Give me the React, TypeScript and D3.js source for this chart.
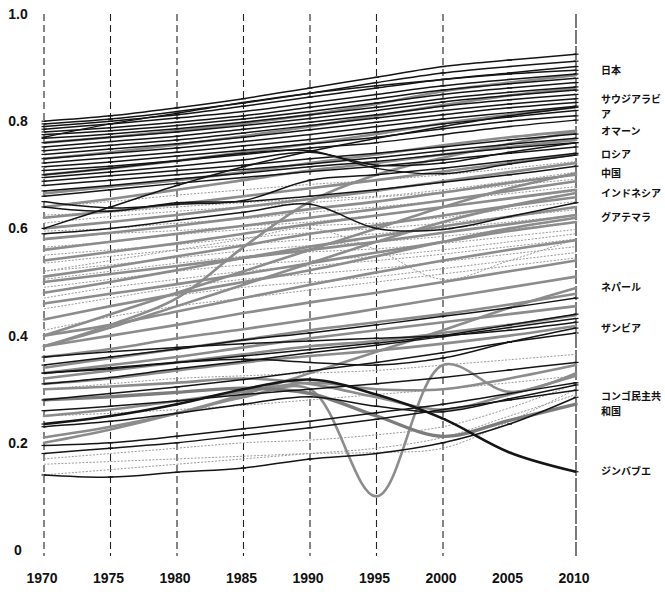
import React from 'react';
import * as d3 from 'd3';

// Survey years on the horizontal axis
const years = [1970, 1975, 1980, 1985, 1990, 1995, 2000, 2005, 2010];
const gridYears = [1970, 1975, 1980, 1985, 1990, 1995, 2000, 2010];
const yTicks = [0, 0.2, 0.4, 0.6, 0.8, 1.0];
const yTickLabels = ['0', '0.2', '0.4', '0.6', '0.8', '1.0'];

// Highlighted countries (index values 1970 → 2010)
const japan = [0.770, 0.795, 0.815, 0.835, 0.852, 0.866, 0.878, 0.888, 0.895];
const saudiArabia = [0.600, 0.640, 0.680, 0.715, 0.744, 0.768, 0.790, 0.810, 0.826];
const oman = [0.380, 0.420, 0.470, 0.565, 0.650, 0.700, 0.732, 0.758, 0.780];
const russia = [0.700, 0.712, 0.726, 0.740, 0.745, 0.712, 0.702, 0.720, 0.737];
const china = [0.400, 0.440, 0.480, 0.520, 0.560, 0.600, 0.640, 0.675, 0.703];
const indonesia = [0.380, 0.415, 0.455, 0.495, 0.535, 0.575, 0.612, 0.642, 0.666];
const guatemala = [0.430, 0.455, 0.478, 0.500, 0.522, 0.548, 0.575, 0.600, 0.620];
const nepal = [0.200, 0.225, 0.255, 0.290, 0.330, 0.370, 0.410, 0.452, 0.489];
const zambia = [0.330, 0.340, 0.350, 0.356, 0.350, 0.345, 0.358, 0.388, 0.414];
const drCongo = [0.280, 0.286, 0.294, 0.302, 0.292, 0.250, 0.212, 0.242, 0.272];
const zimbabwe = [0.235, 0.250, 0.272, 0.300, 0.318, 0.290, 0.245, 0.182, 0.146];

// Other countries, drawn in black
const darkLines = [
  [0.800, 0.810, 0.825, 0.842, 0.862, 0.882, 0.902, 0.914, 0.925],
  [0.795, 0.804, 0.818, 0.834, 0.852, 0.872, 0.890, 0.902, 0.912],
  [0.790, 0.800, 0.812, 0.828, 0.845, 0.862, 0.878, 0.890, 0.902],
  [0.785, 0.795, 0.806, 0.818, 0.834, 0.850, 0.866, 0.878, 0.888],
  [0.780, 0.788, 0.798, 0.810, 0.826, 0.842, 0.858, 0.870, 0.880],
  [0.775, 0.782, 0.792, 0.804, 0.818, 0.834, 0.850, 0.862, 0.872],
  [0.768, 0.776, 0.786, 0.798, 0.812, 0.826, 0.842, 0.854, 0.864],
  [0.760, 0.770, 0.780, 0.792, 0.805, 0.820, 0.836, 0.848, 0.858],
  [0.752, 0.762, 0.772, 0.785, 0.798, 0.812, 0.828, 0.840, 0.850],
  [0.745, 0.755, 0.765, 0.778, 0.792, 0.806, 0.820, 0.832, 0.842],
  [0.738, 0.748, 0.758, 0.770, 0.784, 0.798, 0.812, 0.825, 0.835],
  [0.730, 0.740, 0.750, 0.762, 0.775, 0.790, 0.804, 0.816, 0.828],
  [0.722, 0.732, 0.742, 0.754, 0.766, 0.780, 0.795, 0.808, 0.820],
  [0.715, 0.724, 0.735, 0.746, 0.758, 0.770, 0.786, 0.800, 0.810],
  [0.708, 0.716, 0.726, 0.738, 0.750, 0.760, 0.775, 0.790, 0.802],
  [0.695, 0.705, 0.716, 0.728, 0.742, 0.718, 0.722, 0.742, 0.760],
  [0.688, 0.698, 0.708, 0.718, 0.730, 0.740, 0.752, 0.765, 0.776],
  [0.680, 0.690, 0.700, 0.710, 0.720, 0.732, 0.745, 0.757, 0.768],
  [0.670, 0.680, 0.692, 0.703, 0.715, 0.725, 0.738, 0.750, 0.760],
  [0.660, 0.672, 0.684, 0.695, 0.706, 0.716, 0.728, 0.740, 0.752],
  [0.650, 0.638, 0.645, 0.652, 0.690, 0.700, 0.712, 0.726, 0.740],
  [0.640, 0.632, 0.648, 0.650, 0.660, 0.672, 0.686, 0.700, 0.716],
  [0.590, 0.600, 0.615, 0.630, 0.645, 0.600, 0.598, 0.622, 0.648],
  [0.345, 0.360, 0.375, 0.392, 0.405, 0.420, 0.436, 0.452, 0.470],
  [0.310, 0.322, 0.338, 0.352, 0.368, 0.382, 0.398, 0.415, 0.432],
  [0.280, 0.292, 0.304, 0.318, 0.334, 0.350, 0.368, 0.388, 0.405],
  [0.195, 0.200, 0.212, 0.226, 0.240, 0.256, 0.272, 0.292, 0.312],
  [0.260, 0.268, 0.278, 0.290, 0.300, 0.310, 0.322, 0.336, 0.350],
  [0.230, 0.240, 0.255, 0.272, 0.286, 0.268, 0.258, 0.282, 0.308],
  [0.180, 0.190, 0.200, 0.214, 0.228, 0.244, 0.262, 0.280, 0.298],
  [0.330, 0.338, 0.350, 0.362, 0.374, 0.386, 0.400, 0.420, 0.440],
  [0.360, 0.370, 0.378, 0.385, 0.390, 0.395, 0.400, 0.410, 0.425],
  [0.140, 0.136, 0.145, 0.153, 0.170, 0.180, 0.200, 0.235, 0.285],
];

// Other countries, drawn in grey
const greyLines = [
  [0.760, 0.770, 0.782, 0.796, 0.812, 0.832, 0.856, 0.872, 0.886],
  [0.730, 0.742, 0.756, 0.772, 0.790, 0.810, 0.830, 0.848, 0.862],
  [0.700, 0.712, 0.726, 0.742, 0.758, 0.776, 0.796, 0.812, 0.826],
  [0.665, 0.678, 0.690, 0.705, 0.722, 0.738, 0.755, 0.770, 0.782],
  [0.640, 0.655, 0.672, 0.690, 0.708, 0.722, 0.738, 0.752, 0.765],
  [0.620, 0.632, 0.645, 0.660, 0.675, 0.690, 0.706, 0.722, 0.738],
  [0.600, 0.612, 0.625, 0.640, 0.655, 0.670, 0.688, 0.705, 0.722],
  [0.580, 0.592, 0.605, 0.620, 0.636, 0.650, 0.667, 0.685, 0.700],
  [0.560, 0.575, 0.590, 0.605, 0.620, 0.636, 0.652, 0.670, 0.688],
  [0.540, 0.556, 0.572, 0.590, 0.608, 0.624, 0.640, 0.656, 0.672],
  [0.510, 0.528, 0.548, 0.568, 0.590, 0.606, 0.624, 0.642, 0.658],
  [0.480, 0.500, 0.522, 0.545, 0.566, 0.585, 0.604, 0.622, 0.640],
  [0.460, 0.478, 0.496, 0.515, 0.535, 0.555, 0.575, 0.595, 0.612],
  [0.500, 0.515, 0.530, 0.545, 0.560, 0.575, 0.592, 0.608, 0.625],
  [0.400, 0.420, 0.445, 0.470, 0.495, 0.518, 0.540, 0.560, 0.578],
  [0.380, 0.400, 0.420, 0.442, 0.462, 0.480, 0.500, 0.520, 0.540],
  [0.360, 0.375, 0.395, 0.412, 0.430, 0.450, 0.470, 0.490, 0.510],
  [0.340, 0.358, 0.375, 0.392, 0.410, 0.425, 0.440, 0.458, 0.478],
  [0.330, 0.345, 0.360, 0.378, 0.395, 0.410, 0.425, 0.440, 0.455],
  [0.320, 0.335, 0.350, 0.365, 0.380, 0.390, 0.405, 0.420, 0.438],
  [0.310, 0.320, 0.335, 0.350, 0.362, 0.372, 0.385, 0.400, 0.418],
  [0.300, 0.305, 0.312, 0.320, 0.310, 0.285, 0.262, 0.290, 0.325],
  [0.250, 0.262, 0.278, 0.295, 0.312, 0.300, 0.300, 0.320, 0.345],
  [0.210, 0.230, 0.255, 0.285, 0.300, 0.100, 0.345, 0.295, 0.330],
];

// Remaining countries, thin dotted grey
const faintLines = [
  [0.640, 0.650, 0.662, 0.672, 0.682, 0.690, 0.700, 0.712, 0.725],
  [0.625, 0.630, 0.640, 0.648, 0.655, 0.660, 0.672, 0.688, 0.705],
  [0.610, 0.622, 0.632, 0.640, 0.648, 0.658, 0.668, 0.680, 0.692],
  [0.595, 0.600, 0.610, 0.618, 0.630, 0.640, 0.652, 0.665, 0.678],
  [0.580, 0.590, 0.596, 0.604, 0.612, 0.625, 0.640, 0.655, 0.670],
  [0.565, 0.575, 0.588, 0.598, 0.605, 0.610, 0.620, 0.636, 0.650],
  [0.550, 0.560, 0.570, 0.582, 0.592, 0.600, 0.610, 0.622, 0.635],
  [0.535, 0.548, 0.560, 0.570, 0.580, 0.590, 0.600, 0.612, 0.625],
  [0.520, 0.532, 0.545, 0.558, 0.568, 0.575, 0.585, 0.598, 0.612],
  [0.505, 0.520, 0.535, 0.548, 0.556, 0.562, 0.572, 0.585, 0.598],
  [0.490, 0.505, 0.520, 0.532, 0.540, 0.548, 0.560, 0.575, 0.590],
  [0.470, 0.490, 0.505, 0.520, 0.530, 0.540, 0.552, 0.566, 0.580],
  [0.450, 0.470, 0.490, 0.505, 0.515, 0.525, 0.538, 0.552, 0.566],
  [0.430, 0.455, 0.475, 0.490, 0.500, 0.510, 0.525, 0.540, 0.555],
  [0.410, 0.435, 0.455, 0.470, 0.485, 0.500, 0.515, 0.530, 0.545],
  [0.520, 0.540, 0.560, 0.580, 0.600, 0.560, 0.505, 0.540, 0.580],
  [0.300, 0.310, 0.320, 0.325, 0.330, 0.335, 0.345, 0.355, 0.365],
  [0.250, 0.255, 0.262, 0.270, 0.280, 0.290, 0.300, 0.312, 0.325],
  [0.160, 0.165, 0.170, 0.175, 0.180, 0.182, 0.190, 0.240, 0.300],
  [0.140, 0.150, 0.160, 0.170, 0.180, 0.190, 0.210, 0.250, 0.290],
  [0.170, 0.180, 0.190, 0.200, 0.205, 0.215, 0.230, 0.265, 0.310],
];

// Labels on the right, set against the 2010 value of each series
const labelled = [
  { lines: ['日本'], values: japan },
  { lines: ['サウジアラビ', 'ア'], values: saudiArabia },
  { lines: ['オマーン'], values: oman },
  { lines: ['ロシア'], values: russia },
  { lines: ['中国'], values: china },
  { lines: ['インドネシア'], values: indonesia },
  { lines: ['グアテマラ'], values: guatemala },
  { lines: ['ネパール'], values: nepal },
  { lines: ['ザンビア'], values: zambia },
  { lines: ['コンゴ民主共', '和国'], values: drCongo },
  { lines: ['ジンバブエ'], values: zimbabwe },
];

const darkGroup = [...darkLines, japan, saudiArabia, russia, zambia];
const greyGroup = [...greyLines, oman, china, indonesia, guatemala, nepal];
// Series drawn a little heavier
const heavyDark = [zimbabwe];
const heavyGrey = [drCongo];

const W = 665;
const H = 592;

export default function App() {
  const x = d3.scaleLinear().domain([1970, 2010]).range([44, 576]);
  const y = d3.scaleLinear().domain([0, 1]).range([550, 14]);
  const line = d3
    .line<number>()
    .x((_, i) => x(years[i]))
    .y((d) => y(d))
    .curve(d3.curveCatmullRom.alpha(0.5));

  const sans = '"Liberation Sans", Arial, sans-serif';
  const jp = '"Noto Sans CJK JP", sans-serif';

  const ticks = (s: number[], key: string) =>
    s.map((v, j) => (
      <line
        key={key + j}
        x1={x(years[j]) - 2.5}
        x2={x(years[j]) + 2.5}
        y1={y(v)}
        y2={y(v)}
        strokeWidth={1.2}
      />
    ));

  return (
    <svg
      width={W}
      height={H}
      viewBox={`0 0 ${W} ${H}`}
      style={{ position: 'absolute', left: 0, top: 0, background: '#fff' }}
    >
      {/* vertical year guides */}
      <g>
        {gridYears.map((yr) => (
          <line
            key={yr}
            x1={x(yr)}
            x2={x(yr)}
            y1={y(1)}
            y2={556}
            stroke="#222"
            strokeWidth={yr === 2010 ? 1.2 : 1.1}
            strokeDasharray={yr === 2010 ? '14 2' : '7 4'}
          />
        ))}
      </g>

      {/* thin dotted series */}
      <g fill="none" stroke="#9a9a9a" strokeWidth={1} strokeDasharray="2 1.5">
        {faintLines.map((s, i) => (
          <path key={i} d={line(s) || ''} />
        ))}
      </g>

      {/* grey series */}
      <g fill="none" stroke="#8c8c8c" strokeWidth={2.6} strokeLinecap="round">
        {greyGroup.map((s, i) => (
          <path key={i} d={line(s) || ''} />
        ))}
        {heavyGrey.map((s, i) => (
          <path key={'h' + i} d={line(s) || ''} strokeWidth={3.4} stroke="#7c7c7c" />
        ))}
      </g>

      {/* black series with point ticks */}
      <g fill="none" stroke="#151515" strokeWidth={1.5}>
        {darkGroup.map((s, i) => (
          <g key={i}>
            <path d={line(s) || ''} />
            {ticks(s, 'd' + i + '-')}
          </g>
        ))}
        {heavyDark.map((s, i) => (
          <g key={'h' + i}>
            <path d={line(s) || ''} strokeWidth={2.6} />
            {ticks(s, 'h' + i + '-')}
          </g>
        ))}
      </g>

      {/* value axis labels */}
      <g fontFamily={sans} fontSize={14} fontWeight="bold" fill="#111" textAnchor="middle">
        {yTicks.map((t, i) => (
          <text key={t} x={18} y={y(t)} dy="0.35em">
            {yTickLabels[i]}
          </text>
        ))}
      </g>

      {/* year labels */}
      <g fontFamily={sans} fontSize={14} fontWeight="bold" fill="#111" textAnchor="middle">
        {years.map((yr) => (
          <text key={yr} x={x(yr) - 2} y={583}>
            {yr}
          </text>
        ))}
      </g>

      {/* country names, one text element per row */}
      <g fontFamily={jp} fontSize={10} fontWeight="bold" fill="#111">
        {labelled.map((c, i) => {
          const cy = y(c.values[c.values.length - 1]);
          const lh = 15;
          const top = cy - ((c.lines.length - 1) * lh) / 2;
          return (
            <g key={i}>
              {c.lines.map((t, k) => (
                <text key={k} x={601} y={top + k * lh} dy="0.35em">
                  {t}
                </text>
              ))}
            </g>
          );
        })}
      </g>
    </svg>
  );
}
